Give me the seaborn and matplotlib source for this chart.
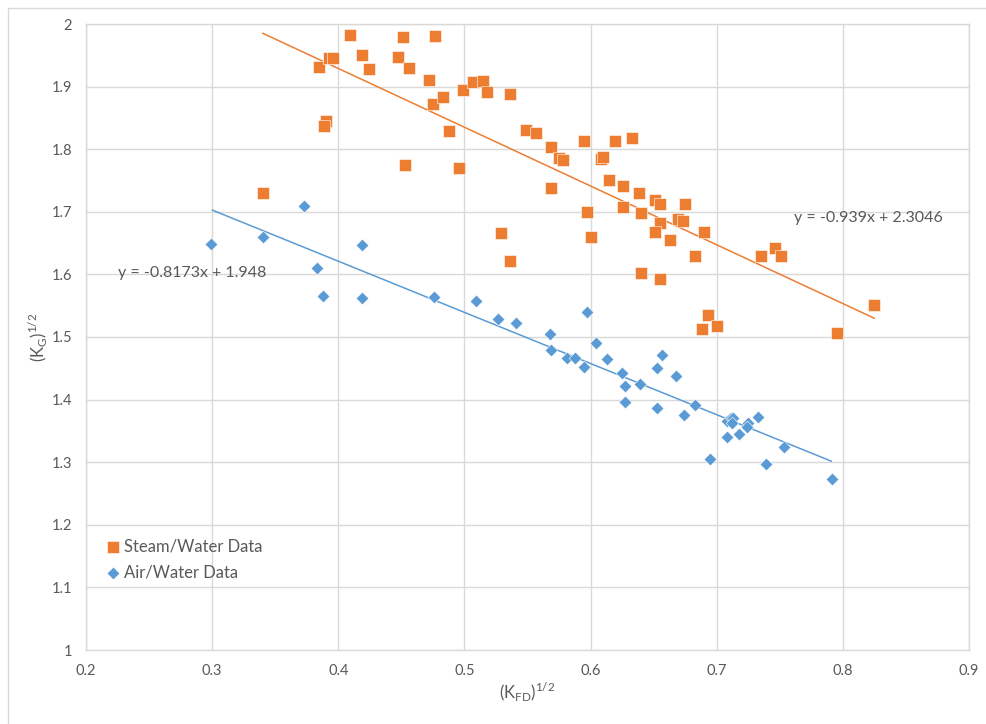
import numpy as np
import pandas as pd
import matplotlib
matplotlib.use("Agg")
import matplotlib.pyplot as plt
import seaborn as sns
from matplotlib.patches import Rectangle

sns.set_style("white")
plt.rcParams['font.family'] = ['Lato', 'DejaVu Sans']

steam_x = [0.340, 0.385, 0.393, 0.396, 0.409, 0.419, 0.424, 0.447, 0.451, 0.456,
           0.472, 0.475, 0.477, 0.483, 0.390, 0.389, 0.488, 0.453, 0.496, 0.499,
           0.507, 0.515, 0.518, 0.536, 0.549, 0.557, 0.569, 0.575, 0.578, 0.595,
           0.619, 0.633, 0.608, 0.610, 0.569, 0.615, 0.626, 0.638, 0.651, 0.655,
           0.675, 0.597, 0.626, 0.640, 0.655, 0.651, 0.669, 0.673, 0.663, 0.600,
           0.529, 0.536, 0.683, 0.640, 0.655, 0.690, 0.735, 0.746, 0.751, 0.693,
           0.688, 0.700, 0.795, 0.825]
steam_y = [1.730, 1.931, 1.946, 1.946, 1.982, 1.950, 1.928, 1.947, 1.979, 1.930,
           1.911, 1.872, 1.981, 1.884, 1.845, 1.837, 1.829, 1.775, 1.770, 1.895,
           1.907, 1.909, 1.891, 1.888, 1.831, 1.826, 1.804, 1.786, 1.783, 1.813,
           1.813, 1.818, 1.784, 1.788, 1.738, 1.751, 1.741, 1.730, 1.719, 1.712,
           1.712, 1.700, 1.708, 1.698, 1.682, 1.668, 1.688, 1.685, 1.655, 1.660,
           1.666, 1.621, 1.629, 1.602, 1.593, 1.668, 1.629, 1.642, 1.629, 1.535,
           1.513, 1.518, 1.506, 1.551]

air_x = [0.299, 0.340, 0.373, 0.383, 0.388, 0.419, 0.419, 0.476, 0.509, 0.527,
         0.541, 0.568, 0.597, 0.569, 0.581, 0.588, 0.595, 0.604, 0.613, 0.625,
         0.627, 0.627, 0.639, 0.653, 0.657, 0.668, 0.653, 0.674, 0.683, 0.708,
         0.711, 0.713, 0.712, 0.725, 0.724, 0.733, 0.708, 0.718, 0.753, 0.695,
         0.739, 0.791]
air_y = [1.649, 1.660, 1.709, 1.610, 1.566, 1.647, 1.562, 1.564, 1.557, 1.529,
         1.522, 1.505, 1.540, 1.479, 1.466, 1.466, 1.452, 1.490, 1.465, 1.443,
         1.422, 1.396, 1.425, 1.450, 1.471, 1.437, 1.387, 1.375, 1.392, 1.366,
         1.370, 1.370, 1.363, 1.363, 1.356, 1.372, 1.340, 1.345, 1.324, 1.305,
         1.297, 1.273]

steam_fit = (-0.939, 2.3046)
air_fit = (-0.8173, 1.948)
steam_range = [0.340, 0.825]
air_range = [0.300, 0.791]

ORANGE = "#ED7D31"
BLUE = "#5B9BD5"
GRID = "#D9D9D9"
TXT = "#595959"

fig = plt.figure(figsize=(9.87, 7.24), dpi=100)
# outer chart border
fig.patches.append(Rectangle((8/987, -0.1), 1.2, 1 - 8/724 + 0.1, transform=fig.transFigure,
                             fill=False, edgecolor=GRID, linewidth=1.0))
ax = fig.add_axes([86/987, 1 - 650/724, (969 - 86)/987, (650 - 24)/724])

df_s = pd.DataFrame({"x": steam_x, "y": steam_y})
df_a = pd.DataFrame({"x": air_x, "y": air_y})

sns.scatterplot(data=df_s, x="x", y="y", ax=ax, marker="s", s=80, color=ORANGE,
                edgecolor="white", linewidth=0.4, label="Steam/Water Data", zorder=3)
sns.scatterplot(data=df_a, x="x", y="y", ax=ax, marker="D", s=42, color=BLUE,
                edgecolor="white", linewidth=0.4, label="Air/Water Data", zorder=3)

xs = np.array(steam_range)
ax.plot(xs, steam_fit[0] * xs + steam_fit[1], color=ORANGE, lw=1.1, zorder=2)
xa = np.array(air_range)
ax.plot(xa, air_fit[0] * xa + air_fit[1], color=BLUE, lw=1.1, zorder=2)

ax.text(0.761, 1.69, "y = -0.939x + 2.3046", color=TXT, fontsize=11.5, va="center")
ax.text(0.225, 1.602, "y = -0.8173x + 1.948", color=TXT, fontsize=11.5, va="center")

ax.set_xlim(0.2, 0.9)
ax.set_ylim(1.0, 2.0)
ax.set_xticks([0.2, 0.3, 0.4, 0.5, 0.6, 0.7, 0.8, 0.9])
ax.set_xticklabels(["0.2", "0.3", "0.4", "0.5", "0.6", "0.7", "0.8", "0.9"])
ax.set_yticks([1, 1.1, 1.2, 1.3, 1.4, 1.5, 1.6, 1.7, 1.8, 1.9, 2])
ax.set_yticklabels(["1", "1.1", "1.2", "1.3", "1.4", "1.5", "1.6", "1.7", "1.8", "1.9", "2"])
ax.grid(True, color=GRID, lw=1.0)
ax.set_axisbelow(True)
for sp in ax.spines.values():
    sp.set_color(GRID)
    sp.set_linewidth(1.0)
ax.tick_params(axis="both", length=0, colors=TXT, labelsize=10.5, pad=10)

ax.set_xlabel(r"(K$_{\mathregular{FD}}$)$^{\mathregular{1/2}}$", color=TXT, fontsize=12, labelpad=2)
ax.set_ylabel(r"(K$_{\mathregular{G}}$)$^{\mathregular{1/2}}$", color=TXT, fontsize=12)
ax.yaxis.set_label_coords(-0.041, 0.5)

leg = ax.legend(loc="lower left", bbox_to_anchor=(0.0, 0.085), frameon=False,
                fontsize=12, labelcolor=TXT, handletextpad=0.1, borderaxespad=0.6,
                handlelength=1.2, labelspacing=0.6)

fig.savefig("out.png", dpi=100)
